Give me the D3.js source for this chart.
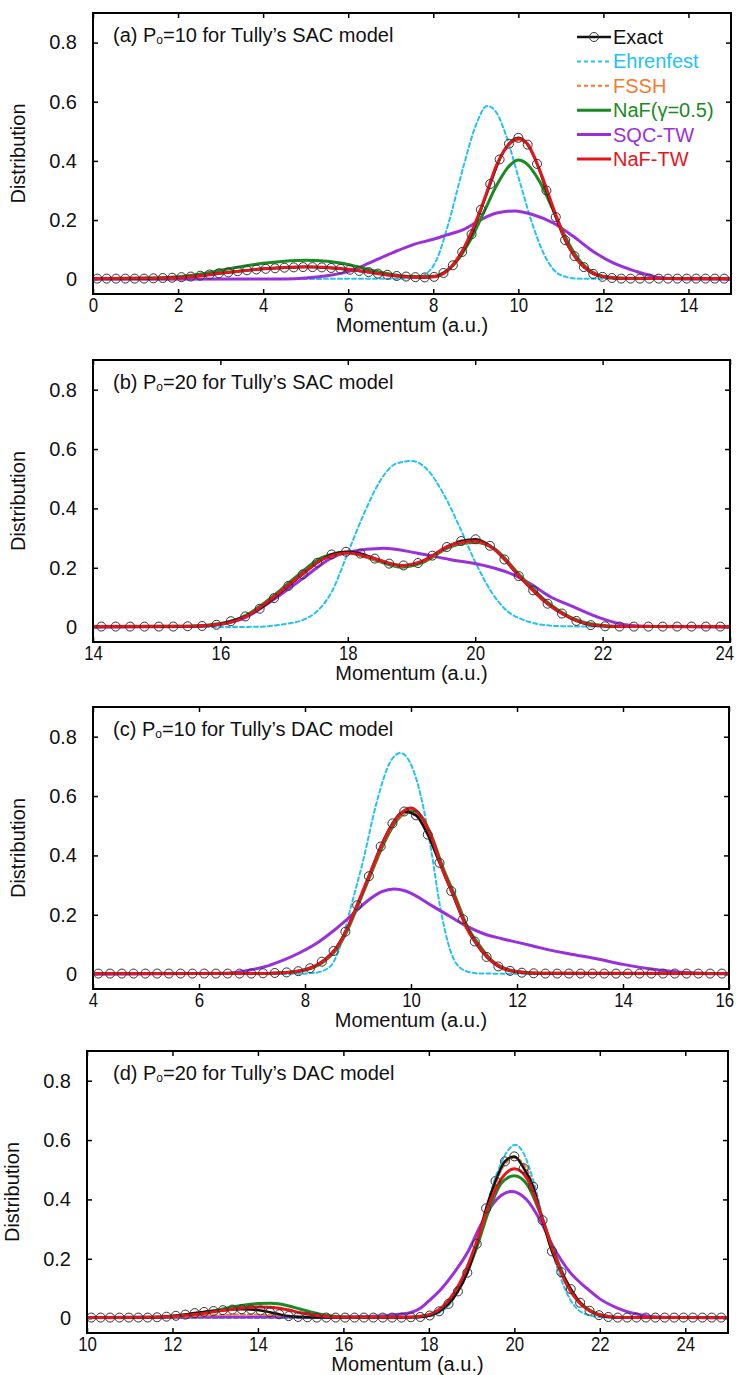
<!DOCTYPE html>
<html>
<head>
<meta charset="utf-8" />
<style>
body {
	margin: 0;
	background: #fff;
	font-family: "Liberation Sans", Arial, Helvetica, sans-serif;
}
svg {
	display: block;
}
.frame {
	fill: none;
	stroke: #000;
	stroke-width: 2;
}
.axis text {
	font-size: 20px;
	font-family: "Liberation Sans", Arial, Helvetica, sans-serif;
	fill: #111;
}
.axis line {
	stroke: #000;
	stroke-width: 1.5;
}
.axis .domain {
	display: none;
}
.title, .axis-label, .legend-text {
	font-size: 20px;
	fill: #111;
}
.series {
	fill: none;
	stroke-linejoin: round;
	stroke-linecap: round;
}
.marker {
	fill: none;
	stroke: #333;
	stroke-width: 1;
}
</style>
</head>
<body>
<script src="https://d3js.org/d3.v7.min.js"></script>
<script>
// ---- data ----
var seriesNames = ["Exact", "Ehrenfest", "FSSH", "NaF(\u03b3=0.5)", "SQC-TW", "NaF-TW"];
var seriesColors = ["#111111", "#22c3f3", "#f47a2e", "#1b8a22", "#9a30dc", "#e8141c"];
var yTicks = [0, 0.2, 0.4, 0.6, 0.8];

// (a) P0=10, SAC
var exactStartA = 0.1, exactStepA = 0.22;
var exactA = [0.002, 0.002, 0.002, 0.002, 0.002, 0.002, 0.003, 0.004, 0.005, 0.007,
    0.009, 0.012, 0.016, 0.020, 0.023, 0.027, 0.030, 0.033, 0.035, 0.037,
    0.039, 0.040, 0.041, 0.041, 0.040, 0.038, 0.035, 0.032, 0.028, 0.024,
    0.019, 0.015, 0.011, 0.009, 0.007, 0.006, 0.008, 0.021, 0.047, 0.092,
    0.152, 0.235, 0.322, 0.405, 0.458, 0.478, 0.455, 0.390, 0.300, 0.210,
    0.132, 0.078, 0.041, 0.018, 0.008, 0.004, 0.002, 0.002, 0.002, 0.002,
    0.002, 0.002, 0.002, 0.002, 0.002, 0.002, 0.002, 0.002];
var ehrenfestA = [[0, 0], [7.3, 0.002], [7.6, 0.006], [7.8, 0.015], [8.08, 0.066], [8.36, 0.19], [8.71, 0.381],
    [9.0, 0.52], [9.27, 0.586], [9.5, 0.56], [9.69, 0.495], [10.04, 0.326], [10.35, 0.178],
    [10.67, 0.066], [10.98, 0.015], [11.4, 0.002], [15, 0]];
var fsshA = [[0, 0.002], [2, 0.006], [3, 0.02], [4, 0.035], [5, 0.041], [6, 0.033], [7, 0.014], [7.8, 0.006],
    [8.2, 0.02], [8.6, 0.08], [8.9, 0.155], [9.2, 0.265], [9.5, 0.385], [9.8, 0.455], [10.0, 0.47],
    [10.2, 0.455], [10.5, 0.37], [10.8, 0.25], [11.1, 0.135], [11.4, 0.065], [11.7, 0.026], [12, 0.009],
    [12.5, 0.002], [15, 0.002]];
var nafA = [[0, 0.002], [1.5, 0.004], [2, 0.008], [2.5, 0.017], [3, 0.03], [3.5, 0.043], [4, 0.054], [4.5, 0.061],
    [5, 0.064], [5.5, 0.061], [6, 0.05], [6.5, 0.032], [7, 0.017], [7.5, 0.009], [8, 0.01], [8.3, 0.027],
    [8.6, 0.07], [8.9, 0.14], [9.2, 0.23], [9.5, 0.32], [9.8, 0.385], [10.0, 0.403], [10.2, 0.39],
    [10.5, 0.33], [10.8, 0.24], [11.1, 0.145], [11.4, 0.07], [11.7, 0.028], [12, 0.01], [12.5, 0.003], [15, 0.002]];
var sqcTwA = [[0, 0], [4.5, 0.001], [5, 0.004], [5.5, 0.012], [6.06, 0.028], [6.5, 0.055], [7.05, 0.09],
    [7.53, 0.117], [8.0, 0.135], [8.32, 0.15], [8.71, 0.168], [9.1, 0.2], [9.49, 0.224], [9.92, 0.231],
    [10.35, 0.218], [10.82, 0.19], [11.29, 0.145], [11.76, 0.094], [12.23, 0.055], [12.78, 0.026],
    [13.3, 0.006], [13.8, 0.001], [15, 0]];
var nafTwA = [[0, 0.002], [1.8, 0.004], [2.5, 0.011], [3, 0.02], [3.5, 0.028], [4, 0.035], [4.5, 0.04], [5, 0.042],
    [5.5, 0.04], [6, 0.034], [6.5, 0.024], [7, 0.013], [7.5, 0.007], [8, 0.008], [8.3, 0.025], [8.6, 0.075],
    [8.9, 0.16], [9.2, 0.27], [9.5, 0.39], [9.8, 0.46], [10.0, 0.475], [10.2, 0.46], [10.5, 0.37],
    [10.8, 0.25], [11.1, 0.135], [11.4, 0.063], [11.7, 0.025], [12, 0.008], [12.5, 0.002], [15, 0.002]];

// (b) P0=20, SAC
var exactStartB = 14.13, exactStepB = 0.226;
var exactB = [0.002, 0.002, 0.002, 0.002, 0.002, 0.002, 0.003, 0.004, 0.008, 0.020,
    0.036, 0.062, 0.098, 0.139, 0.178, 0.217, 0.245, 0.254, 0.248, 0.231,
    0.214, 0.208, 0.216, 0.241, 0.270, 0.290, 0.296, 0.274, 0.228, 0.172,
    0.124, 0.079, 0.046, 0.021, 0.007, 0.003, 0.002, 0.002, 0.002, 0.002,
    0.002, 0.002, 0.002, 0.002];
var ehrenfestB = [[14, 0], [16.5, 0.001], [17.0, 0.01], [17.3, 0.025], [17.5, 0.05], [17.75, 0.12], [18.0, 0.25],
    [18.25, 0.38], [18.5, 0.49], [18.75, 0.55], [19.0, 0.56], [19.25, 0.53], [19.5, 0.45], [19.75, 0.34],
    [20.0, 0.22], [20.25, 0.12], [20.5, 0.055], [20.75, 0.025], [21.0, 0.01], [21.4, 0.003], [24, 0]];
var fsshB = [[14, 0.002], [15.5, 0.003], [16, 0.01], [16.4, 0.036], [16.8, 0.093], [17.2, 0.163], [17.6, 0.226],
    [18.0, 0.248], [18.4, 0.228], [18.85, 0.205], [19.2, 0.222], [19.6, 0.272], [20.0, 0.287], [20.3, 0.262],
    [20.7, 0.168], [21.1, 0.083], [21.5, 0.029], [21.9, 0.006], [22.3, 0.002], [24, 0.002]];
var nafB = [[14, 0.002], [15.5, 0.003], [16, 0.012], [16.4, 0.04], [16.8, 0.1], [17.2, 0.172], [17.6, 0.235],
    [18.0, 0.252], [18.4, 0.228], [18.85, 0.202], [19.2, 0.22], [19.6, 0.27], [20.0, 0.285], [20.3, 0.265],
    [20.7, 0.175], [21.1, 0.09], [21.5, 0.033], [21.9, 0.008], [22.3, 0.002], [24, 0.002]];
var sqcTwB = [[14, 0], [15.5, 0.002], [16, 0.01], [16.4, 0.033], [16.8, 0.088], [17.3, 0.165], [17.77, 0.236],
    [18.03, 0.254], [18.56, 0.266], [19.08, 0.25], [19.6, 0.228], [20.13, 0.208], [20.65, 0.172],
    [20.91, 0.14], [21.2, 0.1], [21.47, 0.075], [21.91, 0.035], [22.36, 0.008], [22.8, 0.002], [24, 0]];
var nafTwB = [[14, 0.002], [15.5, 0.003], [16, 0.01], [16.4, 0.036], [16.8, 0.095], [17.2, 0.165], [17.6, 0.228],
    [18.0, 0.25], [18.4, 0.232], [18.85, 0.208], [19.2, 0.225], [19.6, 0.275], [20.0, 0.29], [20.3, 0.262],
    [20.7, 0.17], [21.1, 0.085], [21.5, 0.03], [21.9, 0.006], [22.3, 0.002], [24, 0.002]];

// (c) P0=10, DAC
var exactStartC = 4.1, exactStepC = 0.222;
var exactC = [0.002, 0.002, 0.002, 0.002, 0.002, 0.002, 0.002, 0.002, 0.002, 0.002,
    0.002, 0.002, 0.002, 0.002, 0.003, 0.004, 0.006, 0.010, 0.020, 0.042,
    0.078, 0.143, 0.232, 0.330, 0.430, 0.508, 0.548, 0.535, 0.470, 0.375,
    0.280, 0.185, 0.110, 0.058, 0.026, 0.011, 0.005, 0.003, 0.002, 0.002,
    0.002, 0.002, 0.002, 0.002, 0.002, 0.002, 0.002, 0.002, 0.002, 0.002,
    0.002, 0.002, 0.002, 0.002];
var ehrenfestC = [[4, 0], [7.8, 0.001], [8.2, 0.005], [8.47, 0.025], [8.66, 0.092], [8.85, 0.216], [9.1, 0.385],
    [9.35, 0.577], [9.6, 0.712], [9.8, 0.745], [10.04, 0.689], [10.23, 0.565], [10.39, 0.408],
    [10.55, 0.227], [10.74, 0.081], [10.99, 0.014], [11.3, 0.002], [16, 0]];
var fsshC = [[4, 0.002], [7, 0.002], [7.6, 0.005], [8.0, 0.015], [8.35, 0.044], [8.6, 0.088], [8.8, 0.152],
    [9.0, 0.237], [9.25, 0.345], [9.5, 0.45], [9.75, 0.525], [10.0, 0.545], [10.2, 0.52], [10.4, 0.45],
    [10.6, 0.348], [10.85, 0.245], [11.05, 0.155], [11.3, 0.088], [11.5, 0.047], [11.75, 0.019],
    [12, 0.008], [12.4, 0.003], [16, 0.002]];
var nafC = [[4, 0.002], [7, 0.002], [7.6, 0.005], [8.0, 0.014], [8.35, 0.042], [8.6, 0.085], [8.8, 0.148],
    [9.0, 0.232], [9.25, 0.34], [9.5, 0.445], [9.75, 0.522], [10.0, 0.55], [10.2, 0.53], [10.4, 0.46],
    [10.6, 0.36], [10.85, 0.255], [11.05, 0.165], [11.3, 0.095], [11.5, 0.05], [11.75, 0.021],
    [12, 0.009], [12.4, 0.003], [16, 0.002]];
var sqcTwC = [[4, 0], [6.5, 0.003], [6.96, 0.014], [7.3, 0.028], [7.59, 0.047], [7.9, 0.072], [8.22, 0.104],
    [8.55, 0.148], [8.85, 0.194], [9.2, 0.25], [9.45, 0.278], [9.68, 0.287], [9.9, 0.28], [10.1, 0.263],
    [10.4, 0.23], [10.74, 0.194], [11.05, 0.162], [11.36, 0.137], [11.7, 0.12], [11.99, 0.108],
    [12.3, 0.095], [12.62, 0.081], [13.0, 0.068], [13.5, 0.052], [14.0, 0.033], [14.5, 0.018],
    [15.0, 0.008], [15.5, 0.003], [16, 0.001]];
var nafTwC = [[4, 0.002], [7, 0.002], [7.6, 0.005], [8.0, 0.015], [8.35, 0.045], [8.6, 0.09], [8.8, 0.155],
    [9.0, 0.24], [9.25, 0.35], [9.5, 0.455], [9.75, 0.53], [10.0, 0.56], [10.2, 0.53], [10.4, 0.455],
    [10.6, 0.35], [10.85, 0.245], [11.05, 0.155], [11.3, 0.088], [11.5, 0.047], [11.75, 0.019],
    [12, 0.008], [12.4, 0.003], [16, 0.002]];

// (d) P0=20, DAC
var exactStartD = 10.1, exactStepD = 0.22;
var exactD = [0.002, 0.002, 0.002, 0.002, 0.002, 0.002, 0.002, 0.003, 0.005, 0.008,
    0.012, 0.017, 0.021, 0.024, 0.027, 0.029, 0.030, 0.029, 0.026, 0.020,
    0.013, 0.007, 0.004, 0.003, 0.002, 0.002, 0.002, 0.002, 0.002, 0.002,
    0.002, 0.002, 0.002, 0.002, 0.003, 0.004, 0.009, 0.023, 0.048, 0.090,
    0.153, 0.250, 0.370, 0.462, 0.528, 0.545, 0.505, 0.443, 0.330, 0.225,
    0.155, 0.098, 0.052, 0.025, 0.010, 0.004, 0.002, 0.002, 0.002, 0.002,
    0.002, 0.002, 0.002, 0.002, 0.002, 0.002, 0.002, 0.002];
var ehrenfestD = [[10, 0], [17.8, 0.002], [18.2, 0.015], [18.6, 0.07], [19.0, 0.2], [19.3, 0.35], [19.6, 0.49],
    [19.85, 0.565], [20.02, 0.584], [20.2, 0.56], [20.45, 0.46], [20.7, 0.32], [21.0, 0.17], [21.3, 0.065],
    [21.6, 0.018], [22, 0.004], [22.5, 0.001], [25, 0]];
var fsshD = [[10, 0.002], [12, 0.004], [12.5, 0.007], [13, 0.01], [13.5, 0.012], [14, 0.012], [14.5, 0.009],
    [15, 0.005], [15.5, 0.003], [17.8, 0.004], [18.2, 0.02], [18.6, 0.08], [19.0, 0.2], [19.4, 0.38],
    [19.7, 0.5], [20.0, 0.54], [20.3, 0.5], [20.6, 0.36], [20.9, 0.22], [21.2, 0.12], [21.5, 0.055],
    [21.8, 0.02], [22.2, 0.005], [25, 0.002]];
var nafD = [[10, 0.002], [11.5, 0.003], [12.5, 0.015], [13.0, 0.026], [13.5, 0.04], [14.0, 0.049], [14.3, 0.05],
    [14.7, 0.042], [15.0, 0.03], [15.5, 0.012], [16, 0.004], [17.5, 0.003], [18, 0.01], [18.4, 0.042],
    [18.8, 0.125], [19.1, 0.23], [19.4, 0.36], [19.7, 0.455], [20.0, 0.48], [20.3, 0.45], [20.6, 0.355],
    [20.9, 0.235], [21.2, 0.13], [21.5, 0.06], [21.8, 0.024], [22.2, 0.006], [22.6, 0.002], [25, 0.002]];
var sqcTwD = [[10, 0.002], [12, 0.003], [13, 0.004], [16, 0.004], [16.8, 0.007], [17.3, 0.013], [17.6, 0.02],
    [17.8, 0.033], [18.0, 0.058], [18.3, 0.1], [18.6, 0.155], [18.9, 0.22], [19.2, 0.31], [19.5, 0.385],
    [19.94, 0.427], [20.29, 0.399], [20.6, 0.331], [20.91, 0.241], [21.3, 0.155], [21.7, 0.1], [22.0, 0.065],
    [22.4, 0.035], [23.0, 0.01], [23.5, 0.003], [25, 0.001]];
var nafTwD = [[10, 0.002], [11.5, 0.003], [12.5, 0.012], [13.0, 0.022], [13.5, 0.032], [14.0, 0.038], [14.3, 0.037],
    [14.7, 0.028], [15.0, 0.018], [15.5, 0.007], [16, 0.003], [17.5, 0.003], [18, 0.012], [18.4, 0.05],
    [18.8, 0.14], [19.1, 0.25], [19.4, 0.38], [19.7, 0.47], [20.0, 0.503], [20.3, 0.47], [20.6, 0.36],
    [20.9, 0.23], [21.2, 0.12], [21.5, 0.055], [21.8, 0.022], [22.2, 0.006], [22.6, 0.002], [25, 0.002]];

// ---- layout ----
var width = 739,
    height = 1375;

var panels = [
	{box: [93, 731, 13, 294], xDomain: [0, 15], xTicks: [0, 2, 4, 6, 8, 10, 12, 14],
	 label: "(a) P", rest: "=10 for Tully\u2019s SAC model",
	 exact: exactA, start: exactStartA, step: exactStepA,
	 lines: [ehrenfestA, fsshA, nafA, sqcTwA, nafTwA], legend: true},
	{box: [93, 730, 360, 642], xDomain: [14, 24], xTicks: [14, 16, 18, 20, 22, 24],
	 label: "(b) P", rest: "=20 for Tully\u2019s SAC model",
	 exact: exactB, start: exactStartB, step: exactStepB,
	 lines: [ehrenfestB, fsshB, nafB, sqcTwB, nafTwB]},
	{box: [93, 729, 707, 989], xDomain: [4, 16], xTicks: [4, 6, 8, 10, 12, 14, 16],
	 label: "(c) P", rest: "=10 for Tully\u2019s DAC model",
	 exact: exactC, start: exactStartC, step: exactStepC,
	 lines: [ehrenfestC, fsshC, nafC, sqcTwC, nafTwC]},
	{box: [87, 728, 1051, 1333], xDomain: [10, 25], xTicks: [10, 12, 14, 16, 18, 20, 22, 24],
	 label: "(d) P", rest: "=20 for Tully\u2019s DAC model",
	 exact: exactD, start: exactStartD, step: exactStepD,
	 lines: [ehrenfestD, fsshD, nafD, sqcTwD, nafTwD]}
];

var svg = d3.select("body").append("svg")
	.attr("width", width)
	.attr("height", height)
	.attr("font-family", "'Liberation Sans', Arial, Helvetica, sans-serif");

svg.append("rect")
	.attr("width", width)
	.attr("height", height)
	.attr("fill", "#fff");

// stroke styles for [Ehrenfest, FSSH, NaF, SQC-TW, NaF-TW]
var lineStyle = [
	{color: seriesColors[1], w: 2, dash: "4,3"},
	{color: seriesColors[2], w: 2, dash: "4,3"},
	{color: seriesColors[3], w: 3, dash: null},
	{color: seriesColors[4], w: 3, dash: null},
	{color: seriesColors[5], w: 3, dash: null}
];
var drawOrder = [0, 3, 2, 1]; // red goes after the black exact line

function yFmt(d) {
	return d === 0 ? "0" : d.toFixed(1);
}

panels.forEach(function(p, k) {
	var left = p.box[0], right = p.box[1], top = p.box[2], bottom = p.box[3];

	var x = d3.scaleLinear().domain(p.xDomain).range([left, right]);
	var y = d3.scaleLinear().domain([-0.05, 0.9]).range([bottom, top]);

	var g = svg.append("g");

	g.append("clipPath")
		.attr("id", "clip" + k)
		.append("rect")
		.attr("x", left).attr("y", top)
		.attr("width", right - left).attr("height", bottom - top);

	// axes (inward ticks all round)
	var xAxisG = g.append("g")
		.attr("class", "axis")
		.attr("transform", "translate(0," + bottom + ")")
		.call(d3.axisBottom(x).tickValues(p.xTicks).tickSizeInner(-5).tickSizeOuter(0).tickPadding(3).tickFormat(d3.format("d")));
	// the figure's tick digits are tall and narrow
	xAxisG.selectAll("text")
		.style("font-size", "21px")
		.each(function(d) {
			var natural = this.getComputedTextLength() || 23;
			var t = d3.select(this).attr("textLength", natural * 0.8).attr("lengthAdjust", "spacingAndGlyphs");
			// keep the last label inside the page
			var over = x(d) + natural / 2 - (width - 3);
			if (over > 0) t.attr("dx", -over);
		});
	g.append("g")
		.attr("class", "axis")
		.attr("transform", "translate(0," + top + ")")
		.call(d3.axisTop(x).tickValues(p.xTicks).tickSizeInner(-5).tickSizeOuter(0).tickFormat(""));
	g.append("g")
		.attr("class", "axis")
		.attr("transform", "translate(" + left + ",0)")
		.call(d3.axisLeft(y).tickValues(yTicks).tickSizeInner(-5).tickSizeOuter(0).tickPadding(16).tickFormat(yFmt));
	g.append("g")
		.attr("class", "axis")
		.attr("transform", "translate(" + right + ",0)")
		.call(d3.axisRight(y).tickValues(yTicks).tickSizeInner(-5).tickSizeOuter(0).tickFormat(""));

	g.append("text")
		.attr("class", "axis-label")
		.attr("x", (left + right) / 2)
		.attr("y", bottom + 38)
		.attr("text-anchor", "middle")
		.text("Momentum (a.u.)");

	g.append("text")
		.attr("class", "axis-label")
		.attr("transform", "translate(" + (left - 68) + "," + ((top + bottom) / 2) + ") rotate(-90)")
		.attr("text-anchor", "middle")
		.text("Distribution");

	var title = g.append("text")
		.attr("class", "title")
		.attr("x", 113)
		.attr("y", top + 29);
	title.append("tspan").text(p.label);
	title.append("tspan").attr("font-size", 12).attr("dy", 2).text("o");
	title.append("tspan").attr("dy", -2).text(p.rest);

	var plot = g.append("g").attr("clip-path", "url(#clip" + k + ")");

	var line = d3.line()
		.x(function(d) { return x(d[0]); })
		.y(function(d) { return y(d[1]); })
		.curve(d3.curveMonotoneX);

	drawOrder.forEach(function(i) {
		plot.append("path")
			.attr("class", "series")
			.attr("d", line(p.lines[i]))
			.attr("stroke", lineStyle[i].color)
			.attr("stroke-width", lineStyle[i].w)
			.attr("stroke-dasharray", lineStyle[i].dash);
	});

	var exactPts = p.exact.map(function(v, i) { return [p.start + i * p.step, v]; });

	plot.append("path")
		.attr("class", "series")
		.attr("d", line(exactPts))
		.attr("stroke", seriesColors[0])
		.attr("stroke-width", 2.5);

	plot.append("path")
		.attr("class", "series")
		.attr("d", line(p.lines[4]))
		.attr("stroke", lineStyle[4].color)
		.attr("stroke-width", lineStyle[4].w);

	plot.selectAll("circle.marker")
		.data(exactPts)
		.enter().append("circle")
		.attr("class", "marker")
		.attr("cx", function(d) { return x(d[0]); })
		.attr("cy", function(d) { return y(d[1]); })
		.attr("r", 4.5);

	g.append("rect")
		.attr("class", "frame")
		.attr("x", left).attr("y", top)
		.attr("width", right - left).attr("height", bottom - top);

	if (p.legend) {
		var lg = g.append("g").attr("transform", "translate(577,37)");
		seriesNames.forEach(function(name, i) {
			var row = lg.append("g").attr("transform", "translate(0," + (i * 24.4) + ")");
			var st = i === 0 ? {color: seriesColors[0], w: 2.5, dash: null} : lineStyle[i - 1];
			row.append("line")
				.attr("x1", 0).attr("x2", 34)
				.attr("stroke", st.color)
				.attr("stroke-width", st.w)
				.attr("stroke-dasharray", st.dash);
			if (i === 0) {
				row.append("circle").attr("class", "marker").attr("cx", 17).attr("r", 4.5);
			}
			row.append("text")
				.attr("class", "legend-text")
				.attr("x", 36)
				.attr("y", 7)
				.style("fill", seriesColors[i])
				.text(name);
		});
	}
});
</script>
</body>
</html>
